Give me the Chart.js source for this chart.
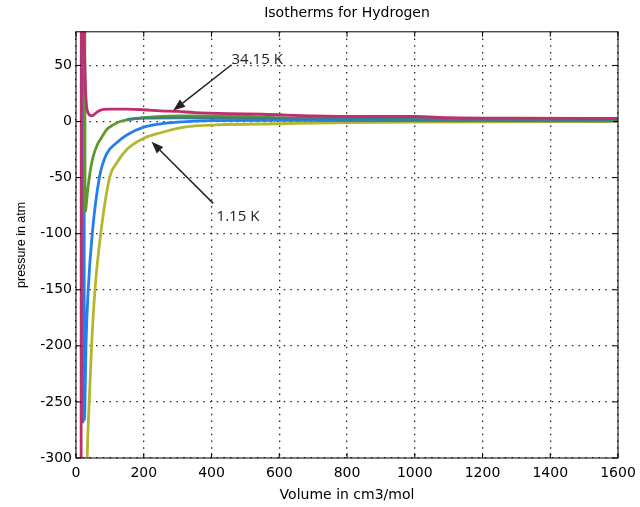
<!DOCTYPE html>
<html>
<head>
<meta charset="utf-8">
<script src="https://cdn.jsdelivr.net/npm/chart.js@4.4.1/dist/chart.umd.min.js"></script>
<style>
  html, body { margin: 0; padding: 0; background: #fff; }
  #wrap { width: 640px; height: 507px; }
</style>
</head>
<body>
<div id="wrap"><canvas id="isotherms"></canvas></div>
<script>
// volume (cm3/mol) and pressure (atm), one pair per isotherm
const magentaV = [15, 16, 22, 27, 30, 35, 47, 60, 71, 100, 150, 200, 250, 300, 350, 450, 550, 700, 850, 1000, 1100, 1300, 1600];
const magentaP = [-400, 400, 120, 40, 18, 8, 5, 8, 10, 11, 11, 10.5, 9.5, 9, 8, 7, 6.5, 5, 4.5, 4.5, 3.5, 3, 2.8];

const tealV = [150, 200, 300, 450, 600, 800, 1000, 1300, 1600];
const tealP = [2, 3, 3.3, 3, 2.8, 2.4, 2, 1.8, 1.5];

const greenV = [25, 26.5, 28.5, 31, 35, 41, 50, 61, 76, 91, 110, 130, 160, 200, 300, 450, 600, 1000, 1600];
const greenP = [400, -50, -80, -72, -60, -46, -32, -22, -14, -7, -3, 0, 2, 3.5, 5, 5, 3.5, 2.5, 1.8];

const blueV = [23, 25, 26.5, 29.5, 36, 48, 69, 90, 120, 150, 200, 250, 300, 400, 600, 1000, 1600];
const blueP = [400, -266, -250, -200, -150, -100, -50, -29, -19, -12, -5, -2, -0.5, 0.8, 1, 0.8, 0.5];

const purpleV = [18, 19, 20];
const purpleP = [400, -100, -269];

const yellowV = [31, 33, 39, 46, 56, 73, 100, 120, 150, 200, 250, 320, 415, 600, 800, 1000, 1600];
const yellowP = [-340, -300, -250, -200, -150, -100, -49, -37, -25, -15, -10, -5, -3, -2, -1, -0.5, 0];

// annotation labels and arrows (data coordinates)
const noteText = ['34.15 K', '1.15 K'];
const noteV = [459, 415];
const noteP = [55, -85];
const arrowFromV = [459, 405];
const arrowFromP = [50.6, -73];
const arrowToV = [287, 223];
const arrowToP = [9.8, -18];

function toPoints(v, p) {
    return v.map((x, i) => ({ x: x, y: p[i] }));
}

function isotherm(label, v, p, color) {
    return {
        label: label,
        data: toPoints(v, p),
        borderColor: color,
        borderWidth: 2.8,
        pointRadius: 0,
        cubicInterpolationMode: 'monotone',
        fill: false,
        clip: 0
    };
}

function drawArrow(ctx, x0, y0, x1, y1) {
    const ang = Math.atan2(y1 - y0, x1 - x0);
    const len = 12, half = 4.5;
    const bx = x1 - len * Math.cos(ang), by = y1 - len * Math.sin(ang);
    ctx.beginPath();
    ctx.moveTo(x0, y0);
    ctx.lineTo(bx, by);
    ctx.stroke();
    ctx.beginPath();
    ctx.moveTo(x1, y1);
    ctx.lineTo(bx + half * Math.sin(ang), by - half * Math.cos(ang));
    ctx.lineTo(bx - half * Math.sin(ang), by + half * Math.cos(ang));
    ctx.closePath();
    ctx.fill();
}

// box round the plot, inward tick marks, arrows and labels
const framePlugin = {
    id: 'frame',
    afterDatasetsDraw(chart) {
        const { ctx, chartArea: a, scales: { x, y } } = chart;
        ctx.save();
        ctx.strokeStyle = '#000';
        ctx.lineWidth = 1;
        ctx.strokeRect(a.left, a.top, a.right - a.left, a.bottom - a.top);
        ctx.beginPath();
        x.ticks.forEach(t => {
            const px = x.getPixelForValue(t.value);
            ctx.moveTo(px, a.bottom); ctx.lineTo(px, a.bottom - 5);
            ctx.moveTo(px, a.top); ctx.lineTo(px, a.top + 5);
        });
        y.ticks.forEach(t => {
            const py = y.getPixelForValue(t.value);
            ctx.moveTo(a.left, py); ctx.lineTo(a.left + 5, py);
            ctx.moveTo(a.right, py); ctx.lineTo(a.right - 5, py);
        });
        ctx.stroke();

        ctx.strokeStyle = '#222';
        ctx.fillStyle = '#222';
        ctx.lineWidth = 1.5;
        for (let i = 0; i < arrowFromV.length; i++) {
            drawArrow(ctx,
                x.getPixelForValue(arrowFromV[i]), y.getPixelForValue(arrowFromP[i]),
                x.getPixelForValue(arrowToV[i]), y.getPixelForValue(arrowToP[i]));
        }
        ctx.font = '15px "Open Sans"';
        ctx.textAlign = 'left';
        ctx.textBaseline = 'middle';
        noteText.forEach((txt, i) => {
            ctx.fillText(txt, x.getPixelForValue(noteV[i]), y.getPixelForValue(noteP[i]));
        });
        ctx.restore();
    }
};

const ctx = document.getElementById('isotherms').getContext('2d');
let isothermChart = new Chart(ctx, {
    type: 'line',
    data: {
        datasets: [
            isotherm('34.15 K', magentaV, magentaP, '#BE2F6C'),
            isotherm('teal', tealV, tealP, '#3D7F88'),
            isotherm('green', greenV, greenP, '#5C9A2E'),
            isotherm('blue', blueV, blueP, '#2380EA'),
            isotherm('purple', purpleV, purpleP, '#7B55A6'),
            isotherm('1.15 K', yellowV, yellowP, '#B4B62C')
        ]
    },
    options: {
        responsive: true,
        maintainAspectRatio: false,
        animation: false,
        layout: { padding: { top: 0, right: 22, bottom: 0, left: 0 } },
        plugins: {
            legend: { display: false },
            tooltip: { enabled: false },
            title: {
                display: true,
                text: 'Isotherms for Hydrogen',
                fullSize: false,
                color: '#000',
                font: { family: 'DejaVu Sans', size: 14, weight: 'normal' },
                padding: { top: 5, bottom: 10 }
            }
        },
        scales: {
            x: {
                type: 'linear',
                min: 0,
                max: 1600,
                afterFit: s => { s.height = 49; s.paddingRight = 0; s.paddingLeft = 0; },
                ticks: {
                    stepSize: 200,
                    color: '#000',
                    padding: 7,
                    font: { family: 'DejaVu Sans', size: 14 },
                    callback: v => String(v)
                },
                grid: { color: '#222', lineWidth: 1.3, drawTicks: false },
                border: { display: false, dash: [1.5, 5.2] },
                title: {
                    display: true,
                    text: 'Volume in cm3/mol',
                    color: '#000',
                    font: { family: 'DejaVu Sans', size: 14 },
                    padding: { top: 0, bottom: 3.6 }
                }
            },
            y: {
                type: 'linear',
                min: -300,
                max: 80,
                afterFit: s => { s.width = 76; },
                ticks: {
                    stepSize: 50,
                    includeBounds: false,
                    color: '#000',
                    padding: 4,
                    font: { family: 'DejaVu Sans', size: 14 },
                    callback: v => String(v)
                },
                grid: { color: '#222', lineWidth: 1.3, drawTicks: false },
                border: { display: false, dash: [1.5, 5.2] },
                title: {
                    display: true,
                    text: 'pressure in atm',
                    color: '#000',
                    font: { family: 'Liberation Sans', size: 12.5 },
                    padding: { top: 14.5, bottom: 0 }
                }
            }
        }
    },
    plugins: [framePlugin]
});
</script>
</body>
</html>
